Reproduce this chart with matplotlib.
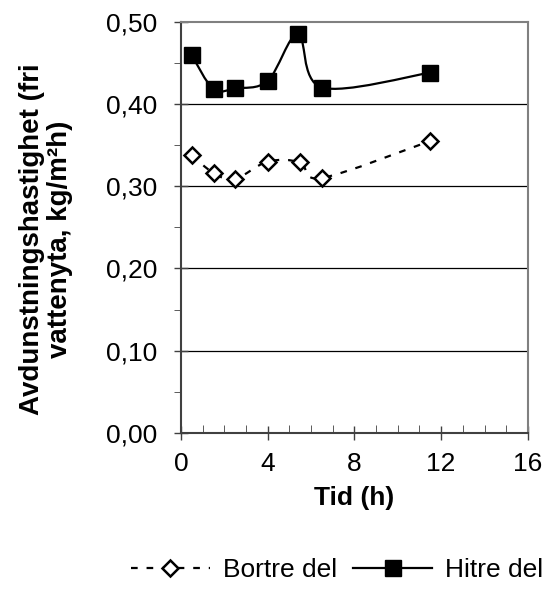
import matplotlib.pyplot as plt
from matplotlib.path import Path
from matplotlib.patches import PathPatch
from matplotlib.ticker import MultipleLocator
from matplotlib.lines import Line2D
import numpy as np

plt.rcParams['font.family'] = ['Liberation Sans', 'DejaVu Sans']

tid_bortre = [0.5, 1.5, 2.5, 4.0, 5.5, 6.5, 11.5]
bortre = [0.338, 0.316, 0.309, 0.330, 0.329, 0.310, 0.355]
tid_hitre = [0.5, 1.5, 2.5, 4.0, 5.4, 6.5, 11.5]
hitre = [0.459, 0.418, 0.419, 0.428, 0.485, 0.420, 0.438]
yticks = [0.0, 0.1, 0.2, 0.3, 0.4, 0.5]
ytick_labels = ['0,00', '0,10', '0,20', '0,30', '0,40', '0,50']
xticks = [0, 4, 8, 12, 16]


def smooth_path(x, y):
    # Excel-style smoothed line: Bezier segments through the points
    p = np.column_stack([x, y])
    verts = [p[0]]
    codes = [Path.MOVETO]
    n = len(p)
    for i in range(n - 1):
        p0 = p[i - 1] if i > 0 else p[i]
        p3 = p[i + 2] if i + 2 < n else p[i + 1]
        c1 = p[i] + (p[i + 1] - p0) / 6
        c2 = p[i + 1] - (p3 - p[i]) / 6
        verts += [c1, c2, p[i + 1]]
        codes += [Path.CURVE4] * 3
    return Path(verts, codes)


fig = plt.figure(figsize=(5.51, 6.03), dpi=100)
ax = fig.add_axes([0.3285, 0.282, 0.6295, 0.682])

ax.set_xlim(0, 16)
ax.set_ylim(0, 0.5)
for g in yticks[1:-1]:
    ax.axhline(g, color='black', lw=0.9, zorder=1)

ax.add_patch(PathPatch(smooth_path(tid_bortre, bortre), fill=False, color='black',
                       lw=1.6, ls=(0, (3, 4)), zorder=2))
ax.plot(tid_bortre, bortre, ls='none', marker='D', ms=8, mfc='white', mec='black',
        mew=1.8, zorder=3)
ax.add_patch(PathPatch(smooth_path(tid_hitre, hitre), fill=False, color='black',
                       lw=1.6, zorder=2))
ax.plot(tid_hitre, hitre, ls='none', marker='s', ms=11, mfc='black', mec='black', zorder=3)

ax.set_yticks(yticks)
ax.set_yticklabels(ytick_labels)
ax.set_xticks(xticks)
ax.yaxis.set_minor_locator(MultipleLocator(0.05))
ax.xaxis.set_minor_locator(MultipleLocator(1))
ax.tick_params(axis='both', which='major', direction='inout', length=10, width=1,
               labelsize=19, color='#404040')
ax.tick_params(axis='y', which='minor', direction='out', length=5, color='#404040')
ax.tick_params(axis='x', which='minor', direction='in', length=6, color='#404040')
ax.tick_params(axis='x', pad=9)
ax.tick_params(axis='y', pad=12)
for s in ['top', 'right']:
    ax.spines[s].set_color('#808080')
    ax.spines[s].set_linewidth(1.5)
for s in ['left', 'bottom']:
    ax.spines[s].set_color('#404040')
    ax.spines[s].set_linewidth(1.5)

ax.set_xlabel('Tid (h)', fontsize=19, fontweight='bold', labelpad=7)
ax.set_ylabel('Avdunstningshastighet (fri\nvattenyta, kg/m²h)', fontsize=20,
              fontweight='bold', linespacing=1.13)
ax.yaxis.set_label_coords(-0.31, 0.47)

handles = [
    Line2D([], [], color='black', ls=(0, (3, 4)), lw=1.6, marker='D', ms=8,
           mfc='white', mec='black', mew=1.8),
    Line2D([], [], color='black', lw=1.6, marker='s', ms=11, mfc='black'),
]
fig.legend(handles, ['Bortre del', 'Hitre del'], loc='center', ncol=2,
           bbox_to_anchor=(0.612, 0.055), frameon=False, fontsize=19,
           handlelength=3.0, columnspacing=0.6, handletextpad=0.5)

fig.savefig('out.png', dpi=100)
